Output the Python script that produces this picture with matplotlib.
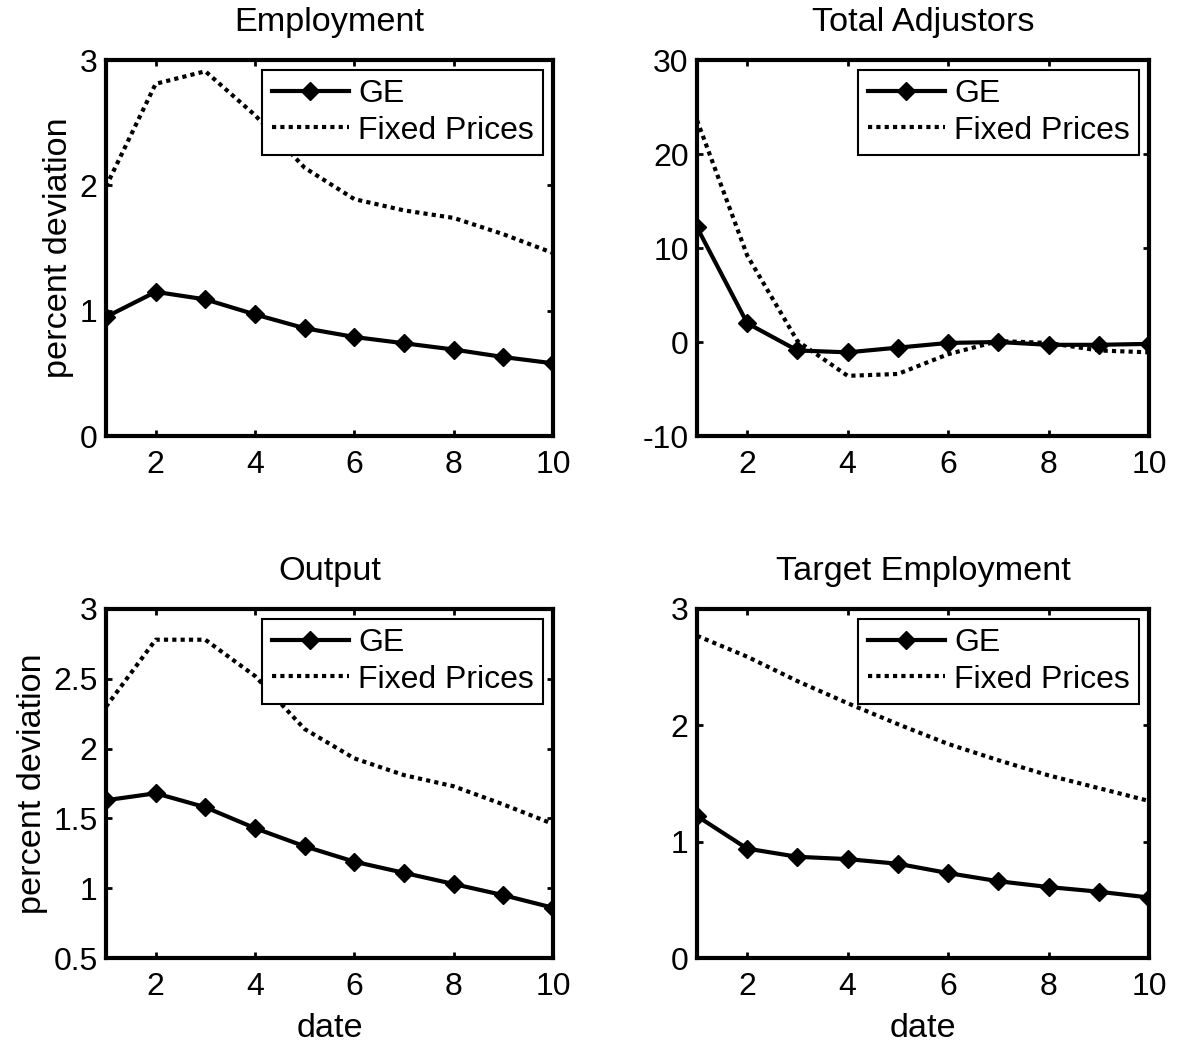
import matplotlib
matplotlib.use("Agg")
import matplotlib.pyplot as plt

dates = [1, 2, 3, 4, 5, 6, 7, 8, 9, 10]

emp_ge = [0.95, 1.15, 1.09, 0.97, 0.86, 0.79, 0.74, 0.69, 0.63, 0.58]
emp_fixed = [1.99, 2.81, 2.91, 2.56, 2.14, 1.89, 1.80, 1.74, 1.61, 1.46]

adj_ge = [12.2, 2.0, -0.9, -1.1, -0.6, -0.1, 0.0, -0.3, -0.3, -0.2]
adj_fixed = [23.6, 9.2, 0.1, -3.6, -3.4, -1.3, 0.1, -0.1, -0.9, -1.1]

out_ge = [1.63, 1.68, 1.58, 1.43, 1.30, 1.19, 1.11, 1.03, 0.95, 0.86]
out_fixed = [2.30, 2.78, 2.78, 2.52, 2.14, 1.93, 1.81, 1.73, 1.60, 1.46]

tgt_ge = [1.22, 0.94, 0.87, 0.85, 0.81, 0.73, 0.66, 0.61, 0.57, 0.52]
tgt_fixed = [2.77, 2.59, 2.38, 2.19, 2.01, 1.84, 1.70, 1.57, 1.46, 1.35]

titles = ["Employment", "Total Adjustors", "Output", "Target Employment"]
ylims = [(0, 3), (-10, 30), (0.5, 3), (0, 3)]
yticks = [[0, 1, 2, 3], [-10, 0, 10, 20, 30], [0.5, 1, 1.5, 2, 2.5, 3], [0, 1, 2, 3]]
xticks = [2, 4, 6, 8, 10]

plt.rcParams["font.family"] = ["Liberation Sans", "DejaVu Sans"]
fs = 23      # ticks, legend
fs_big = 24.7  # titles, axis labels

fig = plt.figure(figsize=(11.77, 10.44), dpi=100)
W, H = 1177, 1044
# axes boxes in pixels: left, top, right, bottom
boxes = [(106, 60, 553, 436), (697, 60, 1149, 436),
         (106, 609, 553, 958), (697, 609, 1149, 958)]
series = [(emp_ge, emp_fixed), (adj_ge, adj_fixed),
          (out_ge, out_fixed), (tgt_ge, tgt_fixed)]

for i, (l, t, r, b) in enumerate(boxes):
    ax = fig.add_axes([l / W, 1 - b / H, (r - l) / W, (b - t) / H])
    ge, fixed = series[i]
    ax.plot(dates, ge, color="black", lw=3, marker="D", markersize=9, label="GE")
    ax.plot(dates, fixed, color="black", lw=3, linestyle=(0, (1, 1)), label="Fixed Prices")
    ax.set_xlim(1, 10)
    ax.set_ylim(*ylims[i])
    ax.set_xticks(xticks)
    ax.set_yticks(yticks[i])
    ax.set_yticklabels([("%g" % v) for v in yticks[i]])
    ax.tick_params(direction="in", length=4, width=2, labelsize=fs,
                   top=True, right=True)
    ax.tick_params(axis="x", pad=10)
    ax.tick_params(axis="y", pad=6)
    for s in ax.spines.values():
        s.set_linewidth(3)
    ax.set_title(titles[i], fontsize=fs_big, pad=21)
    if i % 2 == 0:
        ax.set_ylabel("percent deviation", fontsize=fs_big, labelpad=4)
    if i >= 2:
        ax.set_xlabel("date", fontsize=fs_big, labelpad=8)
    leg = ax.legend(loc="upper right", fontsize=fs, numpoints=1, handlelength=2.4,
                    fancybox=False, framealpha=1, edgecolor="black",
                    borderaxespad=0.3, borderpad=0.3, labelspacing=0.2,
                    handletextpad=0.3)
    leg.get_frame().set_linewidth(1.5)

fig.savefig("out.png", dpi=100)
